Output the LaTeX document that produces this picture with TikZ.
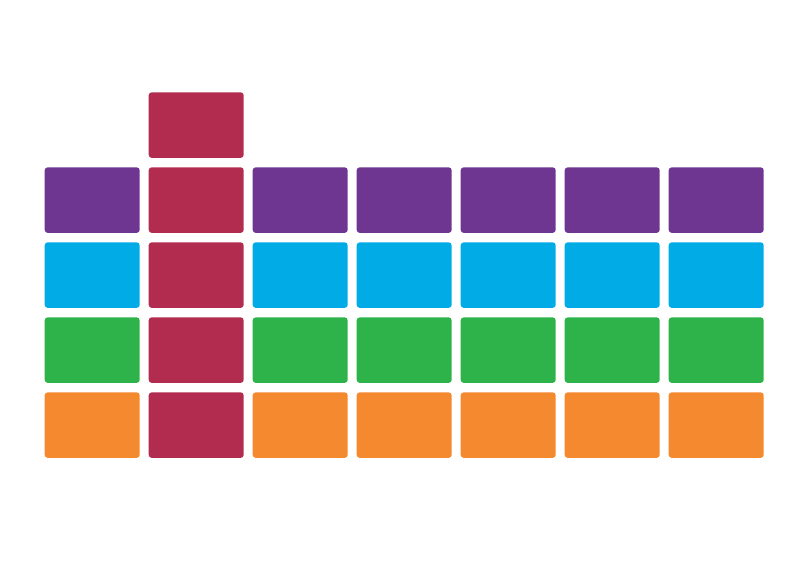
\documentclass[tikz,border=0pt]{standalone}
\usetikzlibrary{positioning}
\definecolor{crimson}{HTML}{B22C50}
\definecolor{violet}{HTML}{6E3591}
\definecolor{sky}{HTML}{00ABE6}
\definecolor{grass}{HTML}{2DB34A}
\definecolor{tangerine}{HTML}{F5892F}
\tikzstyle{cell} = [rectangle,rounded corners=3pt,minimum width=95pt,minimum height=65.5pt,inner sep=0pt,outer sep=0pt]
\tikzstyle{redcell} = [cell,fill=crimson]
\tikzstyle{purplecell} = [cell,fill=violet]
\tikzstyle{bluecell} = [cell,fill=sky]
\tikzstyle{greencell} = [cell,fill=grass]
\tikzstyle{orangecell} = [cell,fill=tangerine]
\begin{document}
\begin{tikzpicture}[x=1pt,y=-1pt,node distance=9.5pt and 9pt]
  \useasboundingbox (0,0) rectangle (800,565);

  %purple row
  \node[purplecell] (pu1) at (92.2,200.1) {};
  \node[redcell,right=of pu1] (re1) {};
  \node[purplecell,right=of re1] (pu3) {};
  \node[purplecell,right=of pu3] (pu4) {};
  \node[purplecell,right=of pu4] (pu5) {};
  \node[purplecell,right=of pu5] (pu6) {};
  \node[purplecell,right=of pu6] (pu7) {};

  %red on top
  \node[redcell,above=of re1] (re0) {};

  %blue row
  \node[bluecell,below=of pu1] (bl1) {};
  \node[redcell,below=of re1] (re2) {};
  \node[bluecell,below=of pu3] (bl3) {};
  \node[bluecell,below=of pu4] (bl4) {};
  \node[bluecell,below=of pu5] (bl5) {};
  \node[bluecell,below=of pu6] (bl6) {};
  \node[bluecell,below=of pu7] (bl7) {};

  %green row
  \node[greencell,below=of bl1] (gr1) {};
  \node[redcell,below=of re2] (re3) {};
  \node[greencell,below=of bl3] (gr3) {};
  \node[greencell,below=of bl4] (gr4) {};
  \node[greencell,below=of bl5] (gr5) {};
  \node[greencell,below=of bl6] (gr6) {};
  \node[greencell,below=of bl7] (gr7) {};

  %orange row
  \node[orangecell,below=of gr1] (or1) {};
  \node[redcell,below=of re3] (re4) {};
  \node[orangecell,below=of gr3] (or3) {};
  \node[orangecell,below=of gr4] (or4) {};
  \node[orangecell,below=of gr5] (or5) {};
  \node[orangecell,below=of gr6] (or6) {};
  \node[orangecell,below=of gr7] (or7) {};

\end{tikzpicture}
\end{document}
